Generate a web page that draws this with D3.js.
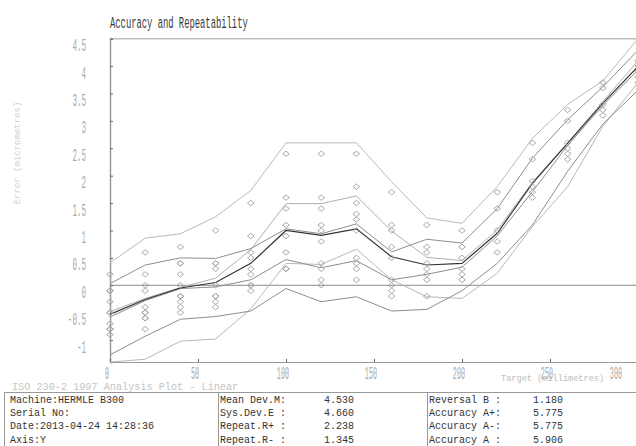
<!DOCTYPE html>
<html><head><meta charset="utf-8">
<script src="https://cdn.jsdelivr.net/npm/d3@7"></script>
<style>body{margin:0;background:#fff}svg{display:block}</style>
</head><body>
<svg id="c" width="636" height="446"></svg>
<script>
// ---- data ----
const targets = [0,20,40,60,80,100,120,140,160,180,200,220,240,260,280,300];
const upper1 = [0.41,0.86,0.94,1.25,1.73,2.60,2.60,2.60,1.89,1.23,1.13,1.80,2.68,3.30,3.73,4.50];
const mean1  = [-0.48,-0.24,-0.04,0.13,0.65,1.49,1.49,1.63,0.99,0.51,0.45,1.01,1.88,2.60,3.35,4.10];
const lower1 = [-1.40,-1.35,-1.02,-0.98,-0.43,0.40,0.38,0.66,0.10,-0.21,-0.24,0.22,1.07,1.80,2.90,3.70];
const upper2 = [0.03,0.37,0.50,0.49,0.67,1.03,0.94,1.12,0.61,0.84,0.77,1.40,2.32,3.02,3.62,4.29];
const mean2  = [-0.58,-0.28,-0.06,-0.03,0.10,0.47,0.32,0.45,0.10,0.20,0.33,0.90,1.71,2.55,3.28,3.93];
const lower2 = [-1.27,-0.93,-0.62,-0.57,-0.47,-0.06,-0.30,-0.21,-0.47,-0.44,-0.10,0.40,1.10,2.08,2.94,3.56];
const meanBi = [-0.53,-0.26,-0.05,0.05,0.40,1.00,0.91,1.03,0.52,0.37,0.40,0.95,1.86,2.59,3.32,3.99];
// individual readings per target
const readings = [
  [0.2,-0.1,-0.1,-0.3,-0.5,-0.5,-0.7,-0.8,-0.8,-0.9],
  [0.6,0.2,0.0,-0.1,-0.4,-0.5,-0.5,-0.6,-0.6,-0.8],
  [0.7,0.4,0.4,0.2,0.0,-0.2,-0.2,-0.3,-0.4,-0.5],
  [1.0,0.4,0.4,0.3,0.0,-0.2,-0.2,-0.3,-0.4],
  [1.5,0.9,0.6,0.5,0.3,0.2,0.0,0.0,-0.1],
  [2.4,1.6,1.4,1.1,0.9,0.6,0.3,0.3],
  [2.4,1.6,1.4,1.1,1.0,0.8,0.4,0.3,0.1,0.0],
  [2.4,1.8,1.5,1.3,1.2,1.0,0.5,0.4,0.3,0.1],
  [1.7,1.1,1.0,0.7,0.5,0.1,0.0,-0.1,-0.2],
  [1.1,0.7,0.6,0.4,0.3,0.2,0.1,-0.2],
  [1.0,0.7,0.5,0.3,0.2,0.1],
  [1.7,1.4,1.0,0.8,0.6],
  [2.6,2.3,1.9,1.8,1.7,1.6],
  [3.2,3.0,2.6,2.5,2.4,2.3],
  [3.7,3.6,3.3,3.2,3.1],
  [4.1,4.0,3.9,3.8,3.7]
];
const yTicks = [-1,-0.5,0,0.5,1,1.5,2,2.5,3,3.5,4,4.5];
const xTicks = [0,50,100,150,200,250,300];
const tableCol1 = ["Machine:HERMLE B300","Serial No:","Date:2013-04-24 14:28:36","Axis:Y"];
const tableCol2 = ["Mean Dev.M:","Sys.Dev.E :","Repeat.R+ :","Repeat.R- :"];
const tableVal2 = ["4.530","4.660","2.238","1.345"];
const tableCol3 = ["Reversal B :","Accuracy A+:","Accuracy A-:","Accuracy A :"];
const tableVal3 = ["1.180","5.775","5.775","5.906"];

// ---- drawing ----
const svg = d3.select("#c");
const W = 636;
const x = d3.scaleLinear().domain([0,300]).range([110,638]);
const y = d3.scaleLinear().domain([-1.4,4.5]).range([362,38.7]);
const MONO = "'Liberation Mono','DejaVu Sans Mono',monospace";

svg.append("defs").append("clipPath").attr("id","clip")
  .append("rect").attr("x",100).attr("y",37).attr("width",W-100).attr("height",326);

// title
svg.append("text").attr("transform","translate(110,27.5) scale(0.52,1)")
  .attr("font-family",MONO).attr("font-size",17).attr("fill","#3a3a3a")
  .text("Accuracy and Repeatability");

// frame
svg.append("line").attr("x1",110).attr("x2",W).attr("y1",38.7).attr("y2",38.7)
  .attr("stroke","#bdbdbd").attr("stroke-width",1.5);
svg.append("line").attr("x1",110).attr("x2",W).attr("y1",y(0)).attr("y2",y(0))
  .attr("stroke","#8c8c8c").attr("stroke-width",1);

// y axis (ticks inward)
const yAxis = svg.append("g").attr("transform","translate(110,0)")
  .call(d3.axisRight(y).tickValues(yTicks).tickSize(3).tickFormat(""));
yAxis.select(".domain").attr("stroke","#9a9a9a").attr("stroke-width",1.5);
yAxis.selectAll(".tick line").attr("stroke","#666");
// x axis (ticks inward)
const xAxis = svg.append("g").attr("transform","translate(0,362)")
  .call(d3.axisTop(x).tickValues(xTicks).tickSize(3).tickFormat(""));
xAxis.select(".domain").attr("stroke","#9a9a9a").attr("stroke-width",1.2);
xAxis.selectAll(".tick line").attr("stroke","#666");

// y tick labels
svg.append("g").selectAll("text").data(yTicks).join("text")
  .attr("transform",d=>`translate(86,${y(d)+12.5}) scale(0.42,1)`)
  .attr("text-anchor","end").attr("font-family",MONO).attr("font-size",18)
  .attr("fill","#ababab").text(d=>String(d));
// x tick labels
svg.append("g").selectAll("text").data(xTicks).join("text")
  .attr("transform",d=>`translate(${Math.min(x(d)-3,616)},379) scale(0.36,1)`)
  .attr("text-anchor","middle").attr("font-family",MONO).attr("font-size",19)
  .attr("fill","#ababab").text(d=>String(d));

// axis titles
svg.append("text").attr("transform","translate(20,153) rotate(-90)")
  .attr("text-anchor","middle").attr("font-family",MONO).attr("font-size",9)
  .attr("fill","#d2d2d2").text("Error (micrometres)");
svg.append("text").attr("x",501).attr("y",381)
  .attr("font-family",MONO).attr("font-size",8.6).attr("fill","#bdbdbd")
  .text("Target (millimetres)");
svg.append("text").attr("x",12).attr("y",390)
  .attr("font-family",MONO).attr("font-size",10.2).attr("fill","#c4c4c4")
  .text("ISO 230-2 1997 Analysis Plot - Linear");

// plot content
const plot = svg.append("g").attr("clip-path","url(#clip)");
const line = d3.line().x((d,i)=>x(targets[i])).y(d=>y(d));
const series = [
  {v:upper1,c:"#b8b8b8",w:1},{v:lower1,c:"#b8b8b8",w:1},{v:mean1,c:"#b0b0b0",w:1},
  {v:upper2,c:"#8e8e8e",w:1},{v:lower2,c:"#8e8e8e",w:1},{v:mean2,c:"#8e8e8e",w:1},
  {v:meanBi,c:"#333",w:1.2}
];
plot.selectAll("path.s").data(series).join("path").attr("class","s")
  .attr("d",d=>line(d.v)).attr("fill","none")
  .attr("stroke",d=>d.c).attr("stroke-width",d=>d.w);

const pts = [];
readings.forEach((arr,i)=>arr.forEach(v=>pts.push([targets[i],v])));
const dia = "M0,-2.7L3.3,0L0,2.7L-3.3,0Z";
plot.selectAll("path.p").data(pts).join("path").attr("class","p")
  .attr("d",dia).attr("transform",d=>`translate(${x(d[0])},${y(d[1])})`)
  .attr("fill","none").attr("stroke","#a0a0a0").attr("stroke-width",0.9);

// table
const T = svg.append("g").attr("font-family",MONO).attr("font-size",10).attr("fill","#333");
T.append("line").attr("x1",4).attr("x2",W).attr("y1",392.5).attr("y2",392.5).attr("stroke","#999");
T.append("line").attr("x1",4.5).attr("x2",4.5).attr("y1",392.5).attr("y2",446).attr("stroke","#999");
T.append("line").attr("x1",218.5).attr("x2",218.5).attr("y1",392.5).attr("y2",446).attr("stroke","#999");
T.append("line").attr("x1",427.5).attr("x2",427.5).attr("y1",392.5).attr("y2",446).attr("stroke","#999");
const rowY = i => 402.5 + i*13.4;
T.selectAll("t1").data(tableCol1).join("text").attr("x",10).attr("y",(d,i)=>rowY(i)).text(d=>d);
T.selectAll("t2").data(tableCol2).join("text").attr("x",220).attr("y",(d,i)=>rowY(i)).text(d=>d);
T.selectAll("t3").data(tableVal2).join("text").attr("x",324).attr("y",(d,i)=>rowY(i)).text(d=>d);
T.selectAll("t4").data(tableCol3).join("text").attr("x",429).attr("y",(d,i)=>rowY(i)).text(d=>d);
T.selectAll("t5").data(tableVal3).join("text").attr("x",533).attr("y",(d,i)=>rowY(i)).text(d=>d);
</script>
</body></html>
